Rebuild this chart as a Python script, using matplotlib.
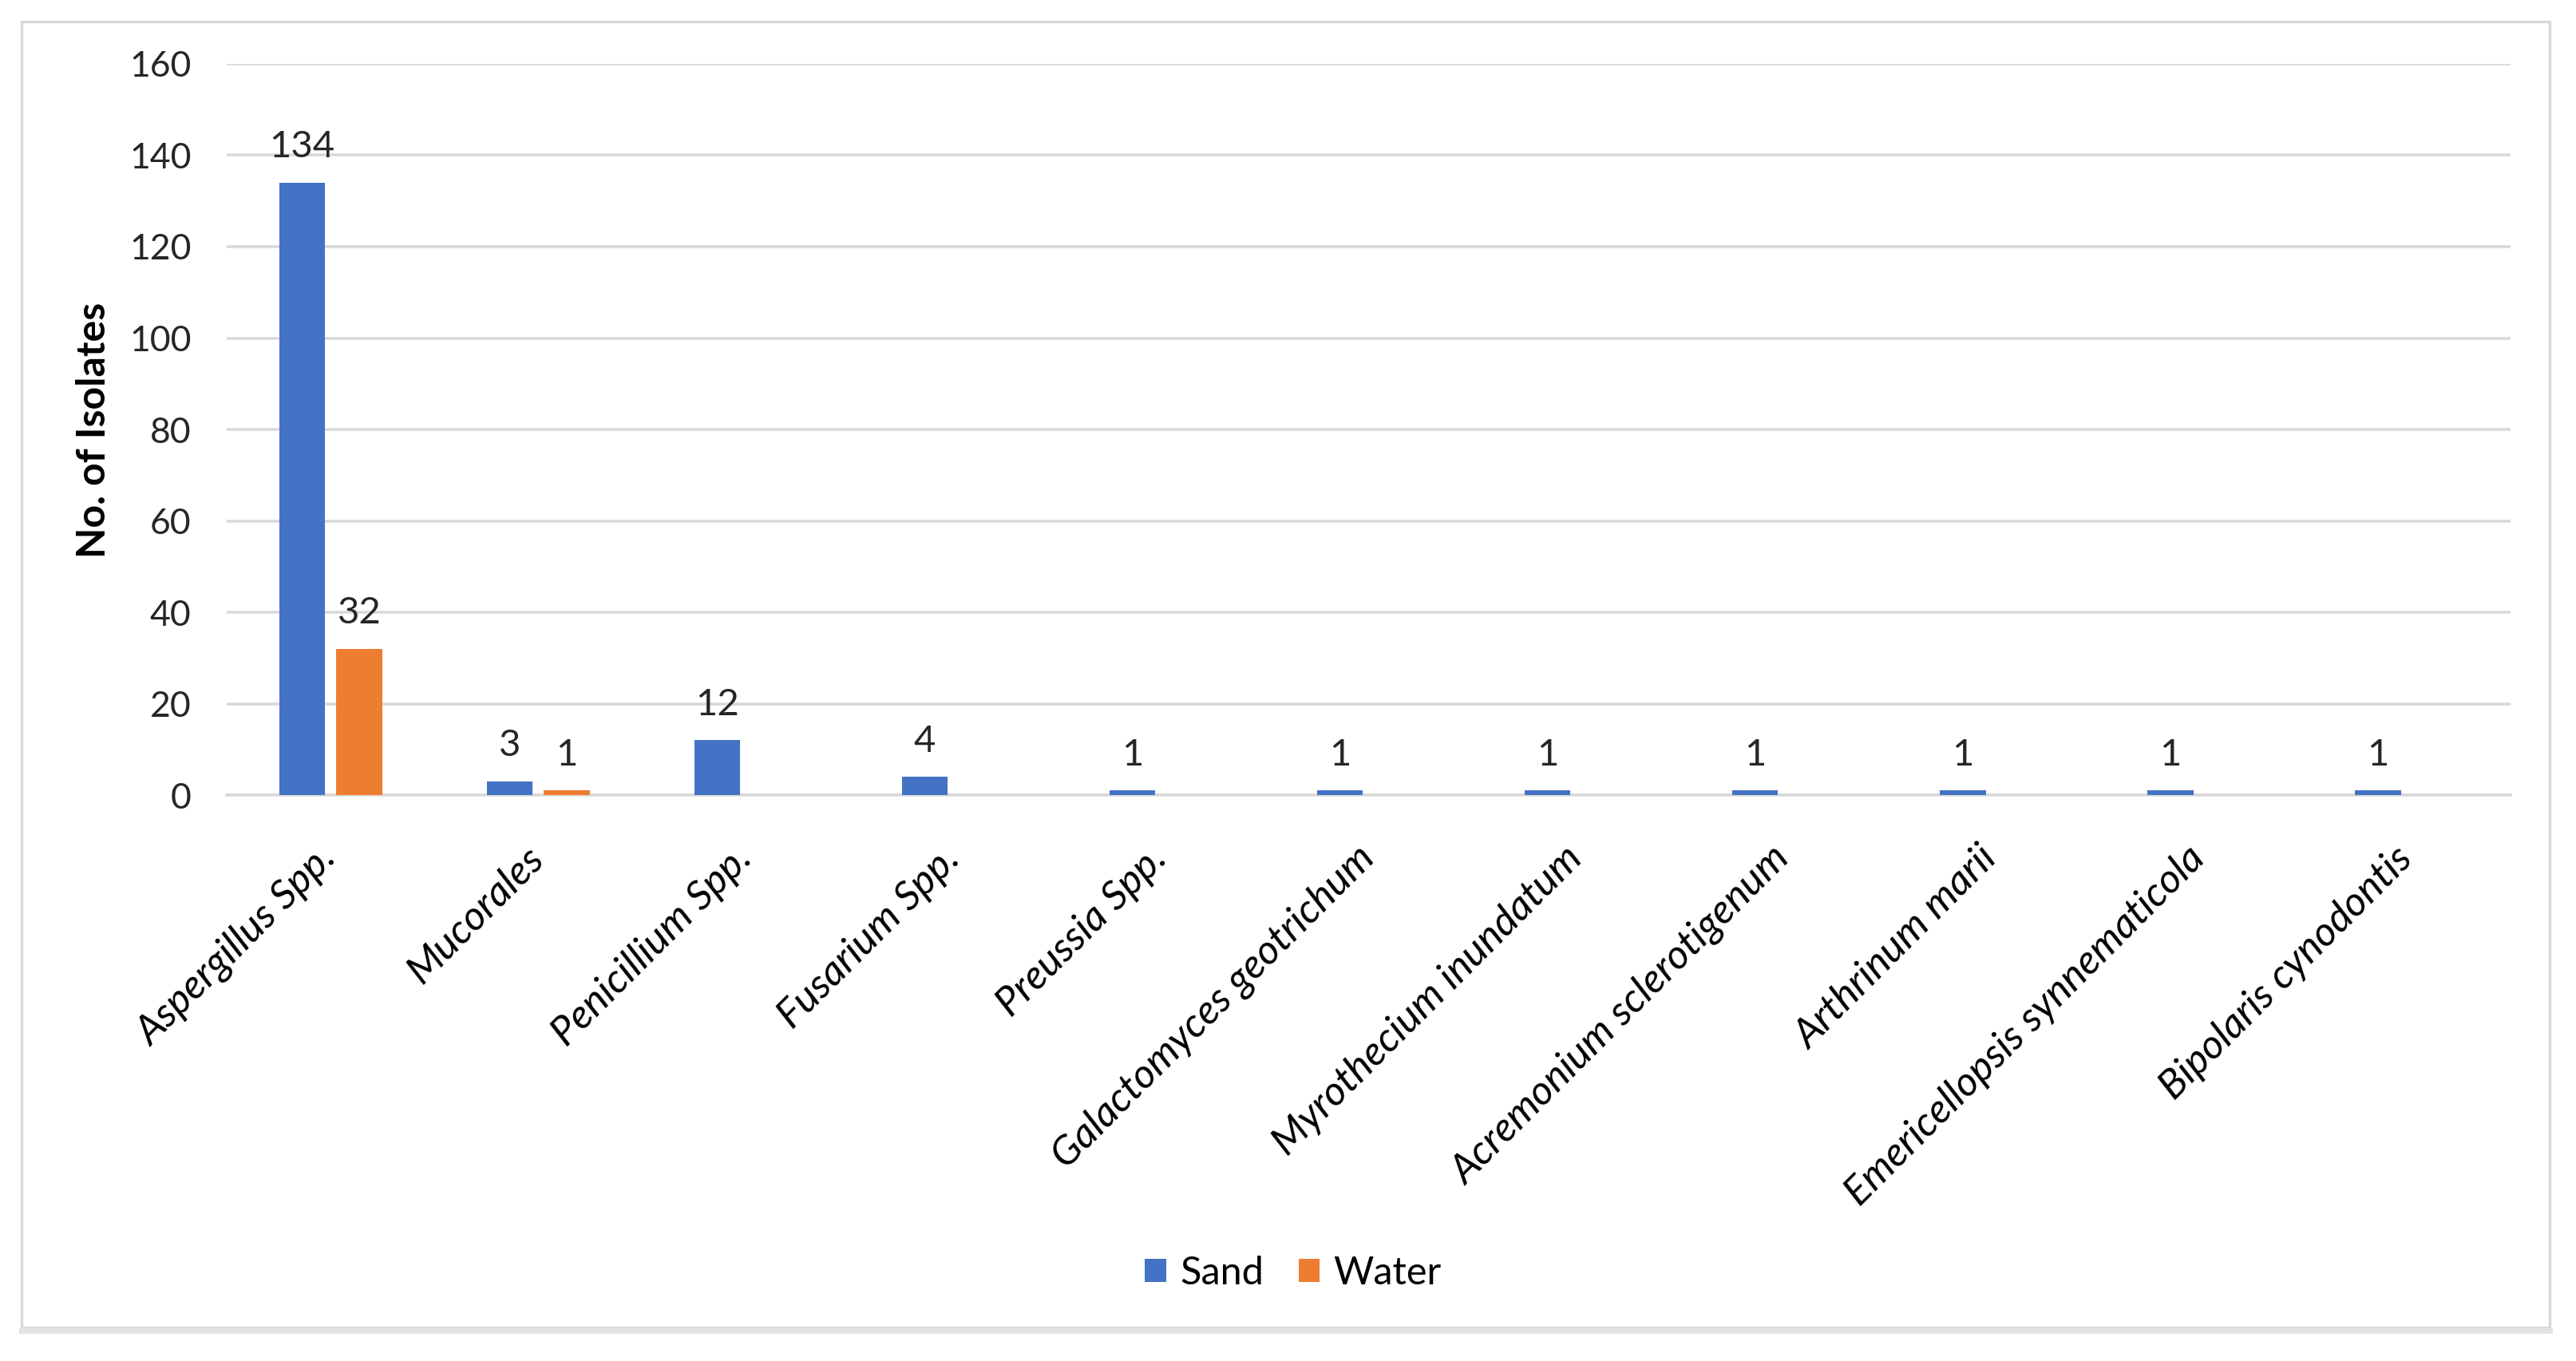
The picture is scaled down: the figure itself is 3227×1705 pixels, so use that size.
import matplotlib
matplotlib.use("Agg")
import matplotlib.pyplot as plt
import numpy as np
from matplotlib.patches import Rectangle
from matplotlib.lines import Line2D

categories = ["Aspergillus Spp.", "Mucorales", "Penicillium Spp.", "Fusarium Spp.",
              "Preussia Spp.", "Galactomyces geotrichum", "Myrothecium inundatum",
              "Acremonium sclerotigenum", "Arthrinum marii", "Emericellopsis synnematicola",
              "Bipolaris cynodontis"]
sand = [134, 3, 12, 4, 1, 1, 1, 1, 1, 1, 1]
water = [32, 1, 0, 0, 0, 0, 0, 0, 0, 0, 0]
yticks = [0, 20, 40, 60, 80, 100, 120, 140, 160]

BLUE = "#4472C4"
ORANGE = "#ED7D31"
GRID = "#D9D9D9"
FONT = ["Lato", "DejaVu Sans"]
FS_TICK = 16
FS_DATA = 17
FS_CAT = 18.3
FS_YLAB = 18
FS_LEG = 17.5

plt.rcParams["font.family"] = FONT

fig = plt.figure(figsize=(16.135, 8.525), dpi=200)
ax = fig.add_axes([0.088, 0.4158, 0.8866, 0.5373])

x = np.arange(len(categories))
w = 0.22
off = 0.138
b1 = ax.bar(x - off, sand, w, color=BLUE, label="Sand", zorder=3)
b2 = ax.bar(x + off, water, w, color=ORANGE, label="Water", zorder=3)

for rects, vals in ((b1, sand), (b2, water)):
    for r, v in zip(rects, vals):
        if v == 0:
            continue
        ax.annotate(str(v), (r.get_x() + r.get_width() / 2, v), xytext=(0, 8.5),
                    textcoords="offset points", ha="center", va="bottom",
                    fontsize=FS_DATA, color="#262626")

ax.set_xlim(-0.5, len(categories) - 0.5)
ax.set_ylim(0, 160)
ax.set_yticks(yticks)
ax.set_yticklabels([str(t) for t in yticks], fontsize=FS_TICK, color="#262626")
ax.tick_params(axis="y", length=0, pad=16)
ax.set_xticks(x)
ax.set_xticklabels(categories, rotation=45, ha="right", va="center",
                   rotation_mode="anchor", fontsize=FS_CAT, style="italic", color="#000000")
ax.tick_params(axis="x", length=0, pad=26)
ax.yaxis.grid(True, color=GRID, linewidth=1.3, zorder=0)
ax.set_axisbelow(True)
for s in ("top", "right", "left"):
    ax.spines[s].set_visible(False)
ax.spines["bottom"].set_color(GRID)
ax.spines["bottom"].set_linewidth(1.3)

fig.text(0.0363, 0.684, "No. of Isolates", rotation=90, ha="center", va="center",
         fontsize=FS_YLAB, fontweight="bold", color="#000000")

leg = fig.legend(handles=[b1, b2], labels=["Sand", "Water"], loc="center",
                 bbox_to_anchor=(0.502, 0.0645), ncol=2, frameon=False,
                 fontsize=FS_LEG, handlelength=0.55, handleheight=0.55,
                 handletextpad=0.35, columnspacing=0.9)

# outer chart frame
fig.add_artist(Rectangle((0.0084, 0.0246), 0.9814, 0.9596, transform=fig.transFigure,
                         fill=False, edgecolor=GRID, linewidth=1.2, zorder=0))
fig.add_artist(Line2D([0.0084, 0.9898], [0.0222, 0.0222], transform=fig.transFigure,
                      color="#E3E3E3", linewidth=2.5))

fig.savefig("out.png", dpi=200, facecolor="white")
